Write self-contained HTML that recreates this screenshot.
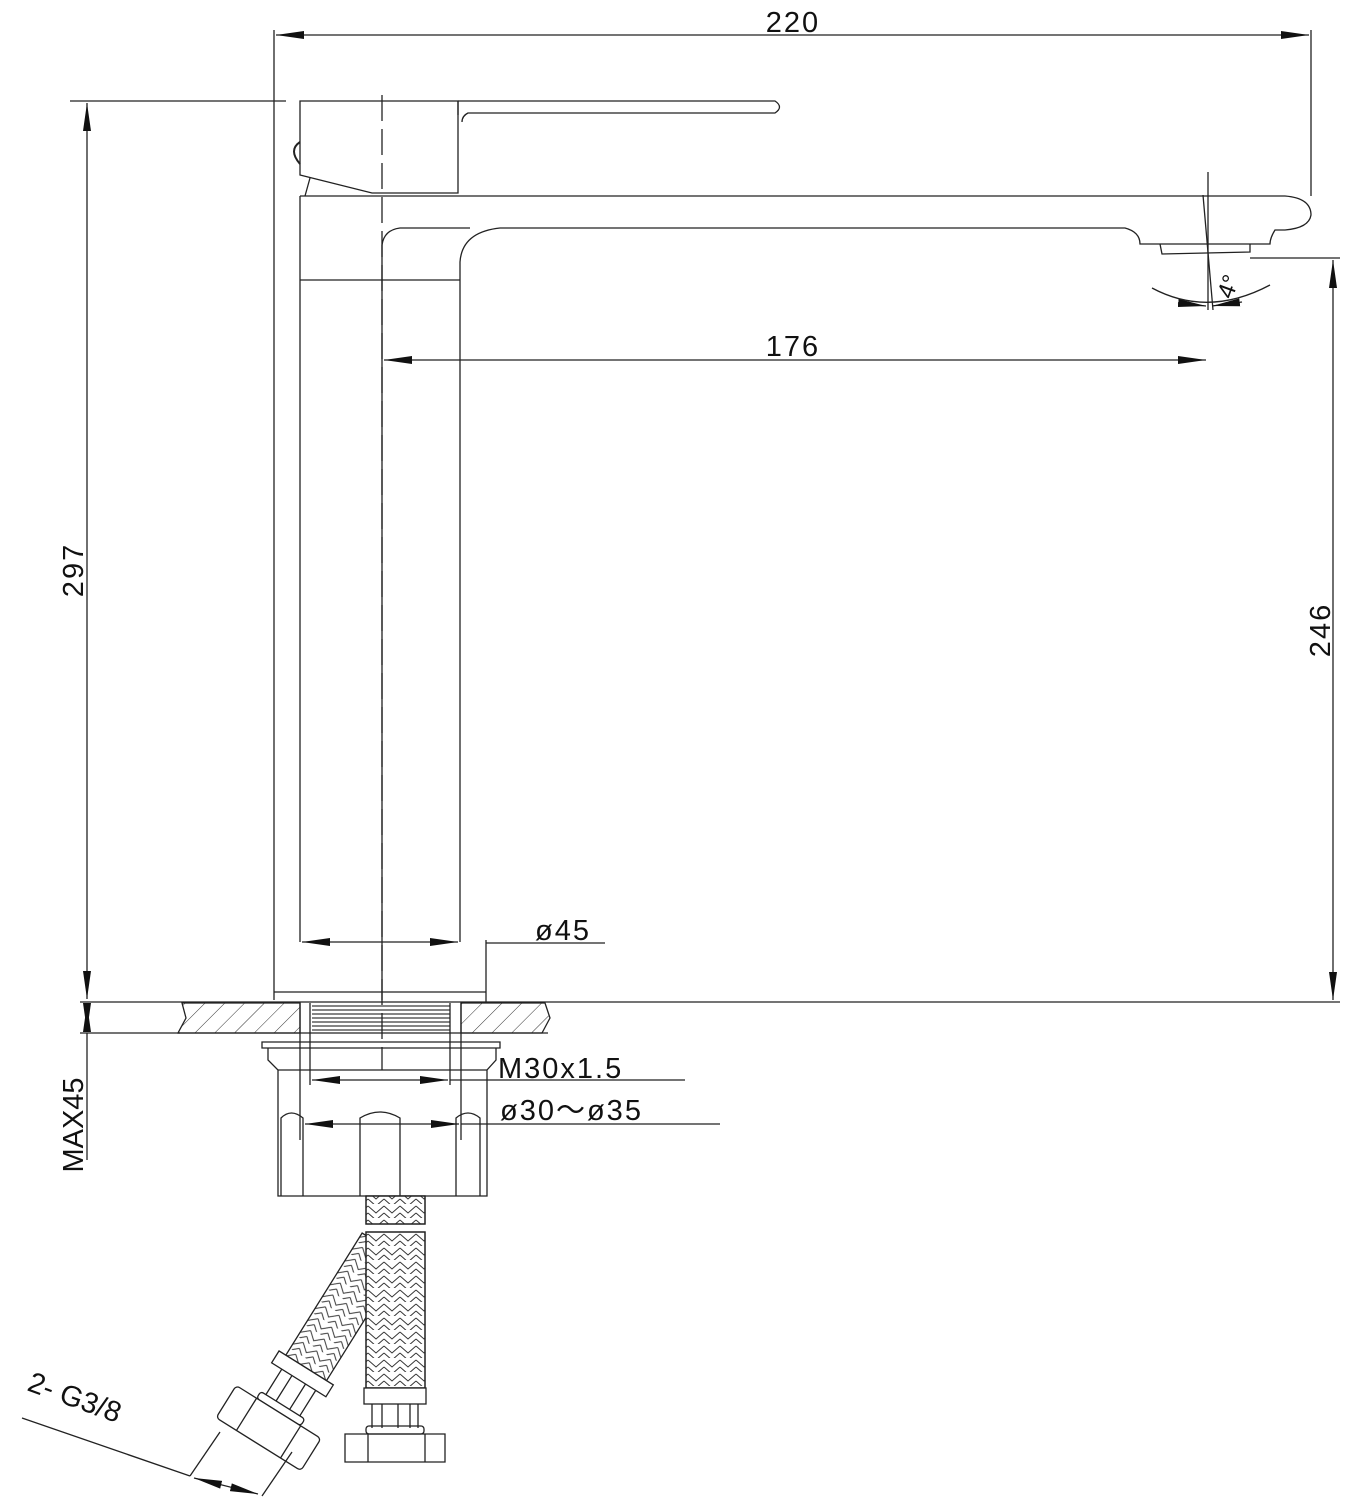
<!DOCTYPE html>
<html><head><meta charset="utf-8"><style>html,body{margin:0;padding:0;background:#fff}svg{display:block}</style></head>
<body>
<svg width="1351" height="1501" viewBox="0 0 1351 1501" xmlns="http://www.w3.org/2000/svg" font-family="Liberation Sans, sans-serif">
<defs>
<pattern id="hatch" width="14" height="14" patternUnits="userSpaceOnUse" patternTransform="rotate(45)"><line x1="0" y1="0" x2="0" y2="14" stroke="#333" stroke-width="1"/></pattern>
<pattern id="thread" width="10" height="4" patternUnits="userSpaceOnUse"><line x1="0" y1="2" x2="10" y2="2" stroke="#333" stroke-width="1.2"/></pattern>
<pattern id="braid" width="16" height="14" patternUnits="userSpaceOnUse"><path d="M0 2 L8 9 L16 2 M0 9 L8 16 M8 16 L16 9" fill="none" stroke="#333" stroke-width="1"/></pattern>
<marker id="a" viewBox="0 0 10 10" refX="10" refY="5" markerWidth="28" markerHeight="10" markerUnits="userSpaceOnUse" orient="auto-start-reverse" preserveAspectRatio="none"><path d="M0 1 L10 5 L0 9z" fill="#111"/></marker>
</defs>
<g stroke="#222" stroke-width="1.3" fill="none">
<line x1="274" y1="30" x2="274" y2="1000"/>
<line x1="1311" y1="30" x2="1311" y2="196"/>
<line x1="276" y1="35" x2="1309" y2="35" marker-start="url(#a)" marker-end="url(#a)"/>
<line x1="70" y1="101" x2="286" y2="101"/>
<line x1="87" y1="103" x2="87" y2="999" marker-start="url(#a)" marker-end="url(#a)"/>
<line x1="80" y1="1002" x2="1340" y2="1002"/>
<line x1="80" y1="1033" x2="180" y2="1033"/>
<line x1="87" y1="1004" x2="87" y2="1031" marker-start="url(#a)" marker-end="url(#a)"/>
<line x1="87" y1="1033" x2="87" y2="1160"/>
<path d="M182 1003 L300 1003 L300 1033 L178 1033 L186 1018 Z" fill="url(#hatch)"/>
<path d="M461 1003 L545 1003 L550 1018 L542 1033 L461 1033 Z" fill="url(#hatch)"/>
<line x1="178" y1="1033" x2="548" y2="1033"/>
<path d="M300 101 L458 101 L458 193 L372 193 L300 175 Z"/>
<path d="M458 101 L775 101 Q784 107 775 113 L468 113 Q462 116 462 122"/>
<line x1="458" y1="101" x2="458" y2="115"/>
<path d="M300 142 Q288 150 300 164" stroke-width="2"/>
<path d="M310 178 L305 196"/>
<path d="M300 196 L1285 196 Q1311 198 1311 215 Q1309 228 1285 230 L1275 230 Q1270 238 1270 244 L1140 244 Q1140 232 1125 228 L500 228 Q462 232 460 262 L460 942"/>
<path d="M300 196 L300 942"/>
<path d="M382 245 Q384 230 400 228 L470 228"/>
<line x1="382" y1="245" x2="382" y2="1000"/>
<line x1="300" y1="280" x2="460" y2="280"/>
<path d="M1160 244 L1162 254 L1250 252 L1250 244"/>
<line x1="1208" y1="172" x2="1208" y2="310"/>
<line x1="1203" y1="195" x2="1213" y2="310"/>
<path d="M1152 288 Q1208 318 1270 285"/>
<path d="M1178 303 L1206 306" marker-end="url(#a)"/>
<path d="M1242 302 L1212 306" marker-end="url(#a)"/>
<line x1="1250" y1="258" x2="1340" y2="258"/>
<line x1="1333" y1="260" x2="1333" y2="1000" marker-start="url(#a)" marker-end="url(#a)"/>
<line x1="384" y1="360" x2="1206" y2="360" marker-start="url(#a)" marker-end="url(#a)"/>
<line x1="274" y1="992" x2="486" y2="992"/>
<line x1="486" y1="940" x2="486" y2="1002"/>
<line x1="302" y1="942" x2="458" y2="942" marker-start="url(#a)" marker-end="url(#a)"/>
<line x1="486" y1="943" x2="605" y2="943"/>
<line x1="300" y1="1003" x2="300" y2="1140"/>
<line x1="461" y1="1003" x2="461" y2="1140"/>
<rect x="312" y="1005" width="138" height="26" fill="url(#thread)" stroke="none"/>
<line x1="310" y1="1003" x2="310" y2="1085"/>
<line x1="450" y1="1003" x2="450" y2="1085"/>
<path d="M262 1042 L500 1042 L500 1048 L262 1048 Z"/>
<path d="M268 1048 L268 1060 L278 1070 L278 1196 L487 1196 L487 1070 L496 1060 L496 1048"/>
<line x1="278" y1="1070" x2="487" y2="1070"/>
<path d="M281 1196 L281 1118 Q291 1108 303 1118 L303 1196"/>
<path d="M360 1196 L360 1118 Q380 1106 400 1118 L400 1196"/>
<path d="M456 1196 L456 1118 Q468 1108 480 1118 L480 1196"/>
<line x1="312" y1="1080" x2="448" y2="1080" marker-start="url(#a)" marker-end="url(#a)"/>
<line x1="450" y1="1080" x2="685" y2="1080"/>
<line x1="305" y1="1124" x2="459" y2="1124" marker-start="url(#a)" marker-end="url(#a)"/>
<line x1="461" y1="1124" x2="720" y2="1124"/>
<line x1="382" y1="95" x2="382" y2="1070" stroke-dasharray="26 8"/>
<!-- angled hose -->
<g transform="translate(303,1373) rotate(32)">
<rect x="-24" y="-150" width="48" height="144" fill="url(#braid)"/>
<rect x="-32" y="-6" width="64" height="14" fill="#fff"/>
<path d="M-20 8 L-20 38 M-8 8 L-8 38 M8 8 L8 38 M20 8 L20 38"/>
<rect x="-26" y="38" width="52" height="8" rx="3" fill="#fff"/>
<rect x="-50" y="46" width="100" height="38" rx="4" fill="#fff"/>
<line x1="-26" y1="46" x2="-26" y2="84"/><line x1="26" y1="46" x2="26" y2="84"/>
</g>
<!-- vertical hose -->
<rect x="366" y="1196" width="59" height="28" fill="#fff"/>
<rect x="366" y="1196" width="59" height="28" fill="url(#braid)"/>
<rect x="366" y="1232" width="59" height="156" fill="#fff"/>
<rect x="366" y="1232" width="59" height="156" fill="url(#braid)"/>
<rect x="364" y="1388" width="62" height="16" fill="#fff"/>
<path d="M372 1404 L372 1428 M382 1404 L382 1428 M398 1404 L398 1428 M410 1404 L410 1428 M418 1404 L418 1428"/>
<rect x="366" y="1426" width="58" height="8" rx="3"/>
<path d="M345 1434 L445 1434 L445 1462 L345 1462 Z"/>
<line x1="368" y1="1434" x2="368" y2="1462"/><line x1="425" y1="1434" x2="425" y2="1462"/>
<line x1="22" y1="1418" x2="190" y2="1476"/>
<line x1="190" y1="1476" x2="220" y2="1432"/>
<line x1="262" y1="1496" x2="292" y2="1452"/>
<line x1="194" y1="1478" x2="258" y2="1494" marker-start="url(#a)" marker-end="url(#a)"/>
</g>
<g fill="#111" font-size="29" letter-spacing="2">
<text x="793" y="32" text-anchor="middle">220</text>
<text x="793" y="356" text-anchor="middle">176</text>
<text x="563" y="940" text-anchor="middle">ø45</text>
<text x="498" y="1078">M30x1.5</text>
<text x="500" y="1120">ø30～ø35</text>
<text transform="translate(83,570) rotate(-90)" text-anchor="middle">297</text>
<text transform="translate(1330,630) rotate(-90)" text-anchor="middle">246</text>
<text transform="translate(83,1125) rotate(-90)" text-anchor="middle" letter-spacing="0">MAX45</text>
<text transform="translate(26,1390) rotate(20)" letter-spacing="0">2- G3/8</text>
<text transform="translate(1232,300) rotate(-70)" font-size="24" letter-spacing="0">4°</text>
</g>
</svg>
</body></html>
